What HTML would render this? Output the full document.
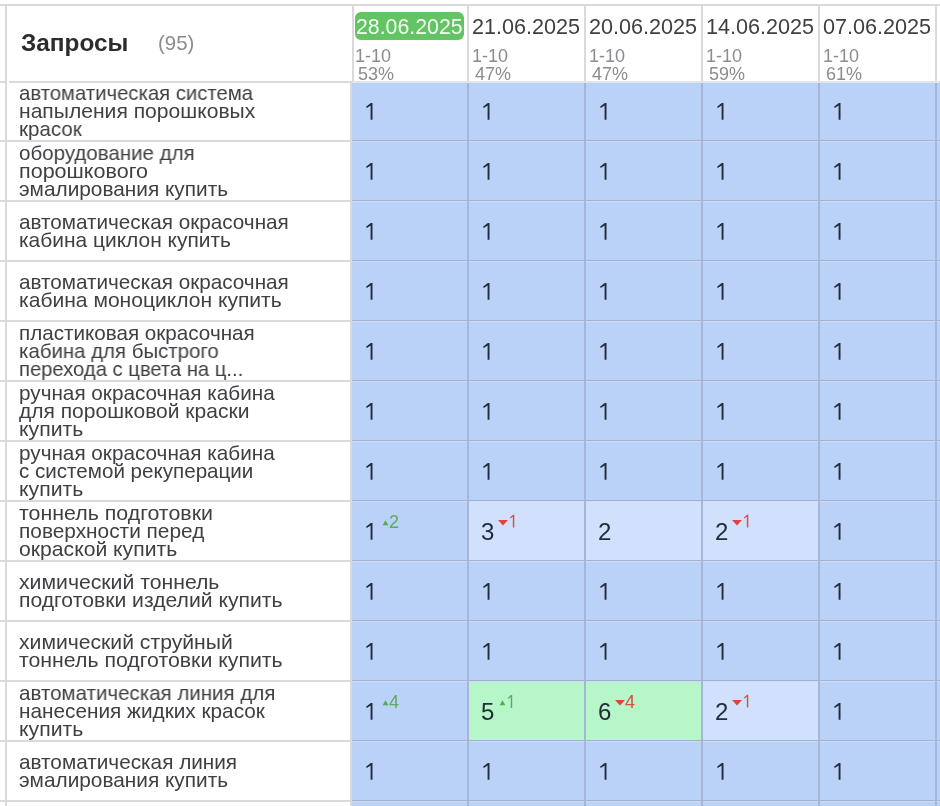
<!DOCTYPE html><html><head><meta charset="utf-8"><style>
html,body{margin:0;padding:0}
body{width:940px;height:806px;overflow:hidden;position:relative;background:#fff;font-family:"Liberation Sans",sans-serif}
div{position:absolute;white-space:nowrap}
.q,.n,.s,.dt,.sb,.hd{will-change:transform}
.q{left:19px;transform-origin:0 0;font-size:20.6px;line-height:18px;color:#3e4044}
.n{font-size:24px;line-height:30px;color:#222c3a}
.s{font-size:18px;line-height:30px}
.up{color:#60a864}.dn{color:#d9503f}
.dt{font-size:21.6px;line-height:28px;color:#3e4044}
.sb{font-size:18px;line-height:18px;color:#8c8c90}
.c{width:115px;height:58px;background:#bad1f8}
.lg{background:#dadada}.hl{background:#a3b0d0}.vl{background:#a7b5d6}
</style></head><body>
<div class="c" style="left:352px;top:82px"></div>
<div class="c" style="left:469px;top:82px"></div>
<div class="c" style="left:586px;top:82px"></div>
<div class="c" style="left:703px;top:82px"></div>
<div class="c" style="left:820px;top:82px"></div>
<div class="c" style="left:937px;top:82px"></div>
<div class="q" style="top:84px;transform:scaleX(0.9861)">автоматическая система</div>
<div class="q" style="top:102px;transform:scaleX(1.0239)">напыления порошковых</div>
<div class="q" style="top:120px;transform:scaleX(0.9952)">красок</div>
<div class="lg" style="left:0;top:140px;width:350px;height:2px"></div>
<div class="hl" style="left:352px;top:140px;width:588px;height:1px"></div>
<div style="left:352px;top:141px;width:588px;height:1px;background:#cfdbf5"></div>
<div class="c" style="left:352px;top:142px"></div>
<div class="c" style="left:469px;top:142px"></div>
<div class="c" style="left:586px;top:142px"></div>
<div class="c" style="left:703px;top:142px"></div>
<div class="c" style="left:820px;top:142px"></div>
<div class="c" style="left:937px;top:142px"></div>
<div class="q" style="top:144px;transform:scaleX(0.9960)">оборудование для</div>
<div class="q" style="top:162px;transform:scaleX(1.0455)">порошкового</div>
<div class="q" style="top:180px;transform:scaleX(1.0107)">эмалирования купить</div>
<div class="lg" style="left:0;top:200px;width:350px;height:2px"></div>
<div class="hl" style="left:352px;top:200px;width:588px;height:1px"></div>
<div style="left:352px;top:201px;width:588px;height:1px;background:#cfdbf5"></div>
<div class="c" style="left:352px;top:202px"></div>
<div class="c" style="left:469px;top:202px"></div>
<div class="c" style="left:586px;top:202px"></div>
<div class="c" style="left:703px;top:202px"></div>
<div class="c" style="left:820px;top:202px"></div>
<div class="c" style="left:937px;top:202px"></div>
<div class="q" style="top:213px;transform:scaleX(1.0045)">автоматическая окрасочная</div>
<div class="q" style="top:231px;transform:scaleX(1.0168)">кабина циклон купить</div>
<div class="lg" style="left:0;top:260px;width:350px;height:2px"></div>
<div class="hl" style="left:352px;top:260px;width:588px;height:1px"></div>
<div style="left:352px;top:261px;width:588px;height:1px;background:#cfdbf5"></div>
<div class="c" style="left:352px;top:262px"></div>
<div class="c" style="left:469px;top:262px"></div>
<div class="c" style="left:586px;top:262px"></div>
<div class="c" style="left:703px;top:262px"></div>
<div class="c" style="left:820px;top:262px"></div>
<div class="c" style="left:937px;top:262px"></div>
<div class="q" style="top:273px;transform:scaleX(1.0045)">автоматическая окрасочная</div>
<div class="q" style="top:291px;transform:scaleX(1.0227)">кабина моноциклон купить</div>
<div class="lg" style="left:0;top:320px;width:350px;height:2px"></div>
<div class="hl" style="left:352px;top:320px;width:588px;height:1px"></div>
<div style="left:352px;top:321px;width:588px;height:1px;background:#cfdbf5"></div>
<div class="c" style="left:352px;top:322px"></div>
<div class="c" style="left:469px;top:322px"></div>
<div class="c" style="left:586px;top:322px"></div>
<div class="c" style="left:703px;top:322px"></div>
<div class="c" style="left:820px;top:322px"></div>
<div class="c" style="left:937px;top:322px"></div>
<div class="q" style="top:324px;transform:scaleX(1.0021)">пластиковая окрасочная</div>
<div class="q" style="top:342px;transform:scaleX(0.9915)">кабина для быстрого</div>
<div class="q" style="top:360px;transform:scaleX(0.9815)">перехода с цвета на ц...</div>
<div class="lg" style="left:0;top:380px;width:350px;height:2px"></div>
<div class="hl" style="left:352px;top:380px;width:588px;height:1px"></div>
<div style="left:352px;top:381px;width:588px;height:1px;background:#cfdbf5"></div>
<div class="c" style="left:352px;top:382px"></div>
<div class="c" style="left:469px;top:382px"></div>
<div class="c" style="left:586px;top:382px"></div>
<div class="c" style="left:703px;top:382px"></div>
<div class="c" style="left:820px;top:382px"></div>
<div class="c" style="left:937px;top:382px"></div>
<div class="q" style="top:384px;transform:scaleX(1.0055)">ручная окрасочная кабина</div>
<div class="q" style="top:402px;transform:scaleX(1.0205)">для порошковой краски</div>
<div class="q" style="top:420px;transform:scaleX(1.0323)">купить</div>
<div class="lg" style="left:0;top:440px;width:350px;height:2px"></div>
<div class="hl" style="left:352px;top:440px;width:588px;height:1px"></div>
<div style="left:352px;top:441px;width:588px;height:1px;background:#cfdbf5"></div>
<div class="c" style="left:352px;top:442px"></div>
<div class="c" style="left:469px;top:442px"></div>
<div class="c" style="left:586px;top:442px"></div>
<div class="c" style="left:703px;top:442px"></div>
<div class="c" style="left:820px;top:442px"></div>
<div class="c" style="left:937px;top:442px"></div>
<div class="q" style="top:444px;transform:scaleX(1.0055)">ручная окрасочная кабина</div>
<div class="q" style="top:462px;transform:scaleX(1.0000)">с системой рекуперации</div>
<div class="q" style="top:480px;transform:scaleX(1.0323)">купить</div>
<div class="lg" style="left:0;top:500px;width:350px;height:2px"></div>
<div class="hl" style="left:352px;top:500px;width:588px;height:1px"></div>
<div style="left:352px;top:501px;width:588px;height:1px;background:#cfdbf5"></div>
<div class="c" style="left:352px;top:502px"></div>
<div class="c" style="left:469px;top:502px;background:#d1e0fc"></div>
<div class="c" style="left:586px;top:502px;background:#d1e0fc"></div>
<div class="c" style="left:703px;top:502px;background:#d1e0fc"></div>
<div class="c" style="left:820px;top:502px"></div>
<div class="c" style="left:937px;top:502px"></div>
<div class="q" style="top:504px;transform:scaleX(1.0371)">тоннель подготовки</div>
<div class="q" style="top:522px;transform:scaleX(1.0120)">поверхности перед</div>
<div class="q" style="top:540px;transform:scaleX(1.0275)">окраской купить</div>
<div class="s up" style="left:389px;top:507px">2</div>
<div class="n" style="left:481px;top:517px">3</div>
<div class="n" style="left:598px;top:517px">2</div>
<div class="n" style="left:715px;top:517px">2</div>
<div class="lg" style="left:0;top:560px;width:350px;height:2px"></div>
<div class="hl" style="left:352px;top:560px;width:588px;height:1px"></div>
<div style="left:352px;top:561px;width:588px;height:1px;background:#cfdbf5"></div>
<div class="c" style="left:352px;top:562px"></div>
<div class="c" style="left:469px;top:562px"></div>
<div class="c" style="left:586px;top:562px"></div>
<div class="c" style="left:703px;top:562px"></div>
<div class="c" style="left:820px;top:562px"></div>
<div class="c" style="left:937px;top:562px"></div>
<div class="q" style="top:573px;transform:scaleX(1.0299)">химический тоннель</div>
<div class="q" style="top:591px;transform:scaleX(1.0277)">подготовки изделий купить</div>
<div class="lg" style="left:0;top:620px;width:350px;height:2px"></div>
<div class="hl" style="left:352px;top:620px;width:588px;height:1px"></div>
<div style="left:352px;top:621px;width:588px;height:1px;background:#cfdbf5"></div>
<div class="c" style="left:352px;top:622px"></div>
<div class="c" style="left:469px;top:622px"></div>
<div class="c" style="left:586px;top:622px"></div>
<div class="c" style="left:703px;top:622px"></div>
<div class="c" style="left:820px;top:622px"></div>
<div class="c" style="left:937px;top:622px"></div>
<div class="q" style="top:633px;transform:scaleX(1.0271)">химический струйный</div>
<div class="q" style="top:651px;transform:scaleX(1.0339)">тоннель подготовки купить</div>
<div class="lg" style="left:0;top:680px;width:350px;height:2px"></div>
<div class="hl" style="left:352px;top:680px;width:588px;height:1px"></div>
<div style="left:352px;top:681px;width:588px;height:1px;background:#cfdbf5"></div>
<div class="c" style="left:352px;top:682px"></div>
<div class="c" style="left:469px;top:682px;background:#b6f6c8"></div>
<div class="c" style="left:586px;top:682px;background:#b6f6c8"></div>
<div class="c" style="left:703px;top:682px;background:#d1e0fc"></div>
<div class="c" style="left:820px;top:682px"></div>
<div class="c" style="left:937px;top:682px"></div>
<div class="q" style="top:684px;transform:scaleX(0.9961)">автоматическая линия для</div>
<div class="q" style="top:702px;transform:scaleX(1.0082)">нанесения жидких красок</div>
<div class="q" style="top:720px;transform:scaleX(1.0323)">купить</div>
<div class="s up" style="left:389px;top:687px">4</div>
<div class="n" style="left:481px;top:697px">5</div>
<div class="n" style="left:598px;top:697px">6</div>
<div class="s dn" style="left:625px;top:687px">4</div>
<div class="n" style="left:715px;top:697px">2</div>
<div class="lg" style="left:0;top:740px;width:350px;height:2px"></div>
<div class="hl" style="left:352px;top:740px;width:588px;height:1px"></div>
<div style="left:352px;top:741px;width:588px;height:1px;background:#cfdbf5"></div>
<div class="c" style="left:352px;top:742px"></div>
<div class="c" style="left:469px;top:742px"></div>
<div class="c" style="left:586px;top:742px"></div>
<div class="c" style="left:703px;top:742px"></div>
<div class="c" style="left:820px;top:742px"></div>
<div class="c" style="left:937px;top:742px"></div>
<div class="q" style="top:753px;transform:scaleX(1.0074)">автоматическая линия</div>
<div class="q" style="top:771px;transform:scaleX(1.0107)">эмалирования купить</div>
<div class="lg" style="left:0;top:800px;width:350px;height:2px"></div>
<div class="hl" style="left:352px;top:800px;width:588px;height:1px"></div>
<div style="left:352px;top:801px;width:588px;height:1px;background:#cfdbf5"></div>
<div class="c" style="left:352px;top:802px"></div>
<div class="c" style="left:469px;top:802px"></div>
<div class="c" style="left:586px;top:802px"></div>
<div class="c" style="left:703px;top:802px"></div>
<div class="c" style="left:820px;top:802px"></div>
<div class="c" style="left:937px;top:802px"></div>
<div class="lg" style="left:0;top:860px;width:350px;height:2px"></div>
<div class="hl" style="left:352px;top:860px;width:588px;height:1px"></div>
<div style="left:352px;top:861px;width:588px;height:1px;background:#cfdbf5"></div>
<svg width="940" height="806" style="position:absolute;left:0;top:0;overflow:visible"><defs><symbol id="o" overflow="visible"><polygon points="0,0 0,16.9 -1.9,16.9 -1.9,2.7 -5.7,5.2 -6.5,3.9 -1.7,0"/></symbol><symbol id="os" overflow="visible"><polygon points="0,0 0,12.9 -1.45,12.9 -1.45,2.1 -4.0,3.9 -4.6,3.0 -1.2,0"/></symbol></defs><use href="#o" x="372.5" y="102.9" fill="#222c3a"/><use href="#o" x="489.5" y="102.9" fill="#222c3a"/><use href="#o" x="606.5" y="102.9" fill="#222c3a"/><use href="#o" x="723.5" y="102.9" fill="#222c3a"/><use href="#o" x="840.5" y="102.9" fill="#222c3a"/><use href="#o" x="372.5" y="162.9" fill="#222c3a"/><use href="#o" x="489.5" y="162.9" fill="#222c3a"/><use href="#o" x="606.5" y="162.9" fill="#222c3a"/><use href="#o" x="723.5" y="162.9" fill="#222c3a"/><use href="#o" x="840.5" y="162.9" fill="#222c3a"/><use href="#o" x="372.5" y="222.9" fill="#222c3a"/><use href="#o" x="489.5" y="222.9" fill="#222c3a"/><use href="#o" x="606.5" y="222.9" fill="#222c3a"/><use href="#o" x="723.5" y="222.9" fill="#222c3a"/><use href="#o" x="840.5" y="222.9" fill="#222c3a"/><use href="#o" x="372.5" y="282.9" fill="#222c3a"/><use href="#o" x="489.5" y="282.9" fill="#222c3a"/><use href="#o" x="606.5" y="282.9" fill="#222c3a"/><use href="#o" x="723.5" y="282.9" fill="#222c3a"/><use href="#o" x="840.5" y="282.9" fill="#222c3a"/><use href="#o" x="372.5" y="342.9" fill="#222c3a"/><use href="#o" x="489.5" y="342.9" fill="#222c3a"/><use href="#o" x="606.5" y="342.9" fill="#222c3a"/><use href="#o" x="723.5" y="342.9" fill="#222c3a"/><use href="#o" x="840.5" y="342.9" fill="#222c3a"/><use href="#o" x="372.5" y="402.9" fill="#222c3a"/><use href="#o" x="489.5" y="402.9" fill="#222c3a"/><use href="#o" x="606.5" y="402.9" fill="#222c3a"/><use href="#o" x="723.5" y="402.9" fill="#222c3a"/><use href="#o" x="840.5" y="402.9" fill="#222c3a"/><use href="#o" x="372.5" y="462.9" fill="#222c3a"/><use href="#o" x="489.5" y="462.9" fill="#222c3a"/><use href="#o" x="606.5" y="462.9" fill="#222c3a"/><use href="#o" x="723.5" y="462.9" fill="#222c3a"/><use href="#o" x="840.5" y="462.9" fill="#222c3a"/><use href="#o" x="372.5" y="522.9" fill="#222c3a"/><polygon fill="#50ad54" points="382.7,525.2 388.3,525.2 385.5,520.2"/><polygon fill="#e0443a" points="498.0,519.9 508.0,519.9 503.0,525.6"/><use href="#os" x="514.3" y="514.7" fill="#d9503f"/><polygon fill="#e0443a" points="732.0,519.9 742.0,519.9 737.0,525.6"/><use href="#os" x="748.3" y="514.7" fill="#d9503f"/><use href="#o" x="840.5" y="522.9" fill="#222c3a"/><use href="#o" x="372.5" y="582.9" fill="#222c3a"/><use href="#o" x="489.5" y="582.9" fill="#222c3a"/><use href="#o" x="606.5" y="582.9" fill="#222c3a"/><use href="#o" x="723.5" y="582.9" fill="#222c3a"/><use href="#o" x="840.5" y="582.9" fill="#222c3a"/><use href="#o" x="372.5" y="642.9" fill="#222c3a"/><use href="#o" x="489.5" y="642.9" fill="#222c3a"/><use href="#o" x="606.5" y="642.9" fill="#222c3a"/><use href="#o" x="723.5" y="642.9" fill="#222c3a"/><use href="#o" x="840.5" y="642.9" fill="#222c3a"/><use href="#o" x="372.5" y="702.9" fill="#222c3a"/><polygon fill="#50ad54" points="382.7,705.2 388.3,705.2 385.5,700.2"/><polygon fill="#50ad54" points="499.7,705.2 505.3,705.2 502.5,700.2"/><use href="#os" x="512.2" y="695.0" fill="#60a864"/><polygon fill="#e0443a" points="615.0,699.9 625.0,699.9 620.0,705.6"/><polygon fill="#e0443a" points="732.0,699.9 742.0,699.9 737.0,705.6"/><use href="#os" x="748.3" y="694.7" fill="#d9503f"/><use href="#o" x="840.5" y="702.9" fill="#222c3a"/><use href="#o" x="372.5" y="762.9" fill="#222c3a"/><use href="#o" x="489.5" y="762.9" fill="#222c3a"/><use href="#o" x="606.5" y="762.9" fill="#222c3a"/><use href="#o" x="723.5" y="762.9" fill="#222c3a"/><use href="#o" x="840.5" y="762.9" fill="#222c3a"/></svg>
<div class="lg" style="left:350px;top:83px;width:2px;height:723px"></div>
<div class="vl" style="left:467px;top:83px;width:2px;height:723px"></div>
<div class="vl" style="left:584px;top:83px;width:2px;height:723px"></div>
<div class="vl" style="left:701px;top:83px;width:2px;height:723px"></div>
<div class="vl" style="left:818px;top:83px;width:2px;height:723px"></div>
<div class="vl" style="left:935px;top:83px;width:2px;height:723px"></div>
<div class="lg" style="left:5px;top:6px;width:2px;height:800px"></div>
<div style="left:0;top:6px;width:940px;height:75px;background:#fff"></div>
<div class="lg" style="left:0;top:4px;width:940px;height:2px"></div>
<div class="lg" style="left:5px;top:6px;width:2px;height:77px"></div>
<div class="lg" style="left:0;top:81px;width:5px;height:2px"></div>
<div class="lg" style="left:9px;top:81px;width:343px;height:2px"></div>
<div style="left:352px;top:81px;width:588px;height:2px;background:#e2e6ec"></div>
<div class="lg" style="left:352px;top:6px;width:2px;height:75px"></div>
<div class="lg" style="left:467px;top:6px;width:2px;height:75px"></div>
<div class="lg" style="left:584px;top:6px;width:2px;height:75px"></div>
<div class="lg" style="left:701px;top:6px;width:2px;height:75px"></div>
<div class="lg" style="left:818px;top:6px;width:2px;height:75px"></div>
<div class="lg" style="left:935px;top:6px;width:2px;height:75px"></div>
<div class="hd" style="left:21px;top:28px;font-weight:700;font-size:24.4px;line-height:30px;color:#2b2c30">Запросы</div>
<div class="hd" style="left:158px;top:28px;font-size:20.4px;line-height:30px;color:#8c8c90">(95)</div>
<div style="left:355px;top:12px;width:109px;height:28px;border-radius:6px;background:#62c462"></div>
<div class="dt" style="left:356px;top:13px;color:#f4fff4;font-size:21.3px">28.06.2025</div>
<div class="sb" style="left:355px;top:47px">1-10</div>
<div class="sb" style="left:358px;top:65px">53%</div>
<div class="dt" style="left:472px;top:13px">21.06.2025</div>
<div class="sb" style="left:472px;top:47px">1-10</div>
<div class="sb" style="left:475px;top:65px">47%</div>
<div class="dt" style="left:589px;top:13px">20.06.2025</div>
<div class="sb" style="left:589px;top:47px">1-10</div>
<div class="sb" style="left:592px;top:65px">47%</div>
<div class="dt" style="left:706px;top:13px">14.06.2025</div>
<div class="sb" style="left:706px;top:47px">1-10</div>
<div class="sb" style="left:709px;top:65px">59%</div>
<div class="dt" style="left:823px;top:13px">07.06.2025</div>
<div class="sb" style="left:823px;top:47px">1-10</div>
<div class="sb" style="left:826px;top:65px">61%</div>
</body></html>
